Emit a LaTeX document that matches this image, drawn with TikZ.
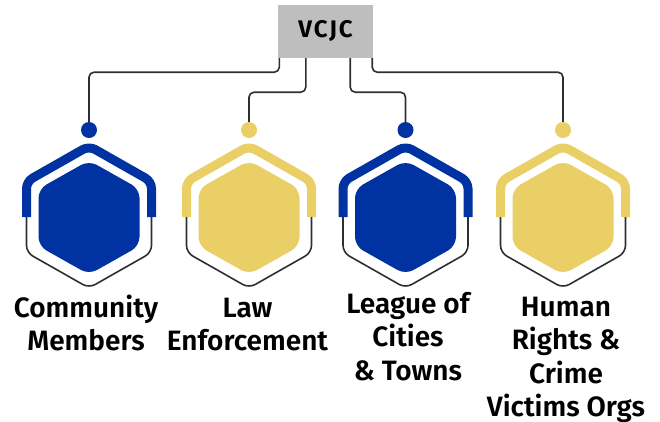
\documentclass[tikz,border=0pt]{standalone}
\usepackage{fontspec}
\setmainfont{Fira Sans}
\newfontfamily\labfont{Fira Sans SemiBold}
\newfontfamily\boxfont[LetterSpace=8]{Fira Sans Bold}

\definecolor{hexblue}{HTML}{0033A1}
\definecolor{hexyellow}{HTML}{E9CF66}
\definecolor{linedark}{HTML}{2B2F36}
\definecolor{boxgray}{HTML}{BEBEBE}

\begin{document}
\begin{tikzpicture}[x=1pt,y=1pt,
  link/.style={draw=linedark, line width=1.6pt, rounded corners=5pt},
  dot/.style={circle, inner sep=0pt, minimum size=16pt},
  band/.style={line width=9pt, rounded corners=7pt},
  rim/.style={draw=linedark, line width=1.6pt, rounded corners=7pt},
  lbl/.style={anchor=north, align=center, inner sep=0pt, font={\labfont\fontsize{28}{33.5}\selectfont}}]
\useasboundingbox (0,0) rectangle (660,-421);

\node[fill=boxgray, minimum width=95pt, minimum height=53pt, inner sep=0pt, font={\boxfont\fontsize{24}{24}\selectfont}] (vcjc) at (325.5,-31.5) {VCJC};

\foreach \cx/\col/\nm in {89/hexblue/a, 249/hexyellow/b, 405.5/hexblue/c, 563/hexyellow/d}{
  \draw[band, draw=\col] (\cx-62.5,-217) -- (\cx-62.5,-181.5) -- (\cx,-146) -- (\cx+62.5,-181.5) -- (\cx+62.5,-217);
  \draw[rim] (\cx-62.5,-217) -- (\cx-62.5,-252.5) -- (\cx,-288) -- (\cx+62.5,-252.5) -- (\cx+62.5,-217);
  \fill[\col, rounded corners=9pt] (\cx,-160.5) -- (\cx+50.5,-189) -- (\cx+50.5,-246) -- (\cx,-274.5) -- (\cx-50.5,-246) -- (\cx-50.5,-189) -- cycle;
  \node[dot, fill=\col] (dot-\nm) at (\cx,-130) {};
}

\draw[link] ([xshift=1.5pt]vcjc.south west) -- ++(0,-14) -| (dot-a);
\draw[link] ([xshift=28pt]vcjc.south west) -- ++(0,-34) -| (dot-b);
\draw[link] ([xshift=-23pt]vcjc.south east) -- ++(0,-34) -| (dot-c);
\draw[link] ([xshift=-1pt]vcjc.south east) -- ++(0,-14) -| (dot-d);

\node[lbl] (lbl-a) at (86,-294.5) {Community\\Members};
\node[lbl] (lbl-b) at (247.5,-297.5) {Law\\Enforcement};
\node[lbl] (lbl-c) at (408,-292) {League of\\Cities\\\& Towns};
\node[lbl] (lbl-d) at (566,-296.5) {Human\\Rights \&\\Crime\\Victims Orgs};
\end{tikzpicture}
\end{document}
